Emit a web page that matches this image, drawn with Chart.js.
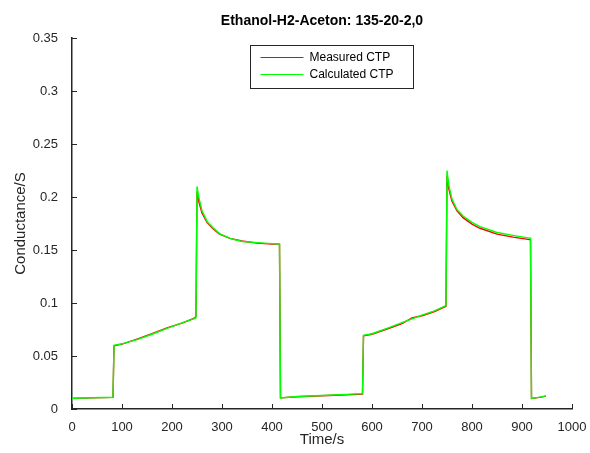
<!DOCTYPE html>
<html>
<head>
<meta charset="utf-8">
<script src="https://cdn.jsdelivr.net/npm/chart.js@4/dist/chart.umd.min.js"></script>
<style>
  html, body { margin: 0; padding: 0; background: #fff; }
</style>
</head>
<body>
<canvas id="c" width="590" height="453"></canvas>
<script>
  // time points (s) and conductance values (S)
  const times = [0, 40, 82, 84, 100, 130, 160, 190, 220, 246, 248,
    250, 254, 260, 270, 282, 295, 316, 340, 370, 400, 415,
    417, 450, 500, 550, 581, 583, 600, 630, 660, 680, 700, 725, 748,
    750, 754, 760, 770, 782, 800, 816, 850, 882, 915, 917,
    919, 935, 948];
  const measured = [0.0100, 0.0105, 0.0110, 0.0595, 0.0612, 0.0660, 0.0710, 0.0765, 0.0810, 0.0860, 0.0880,
    0.2050, 0.1950, 0.1850, 0.1760, 0.1700, 0.1650, 0.1610, 0.1585, 0.1565, 0.1555, 0.1555,
    0.0105, 0.0115, 0.0125, 0.0135, 0.0140, 0.0690, 0.0705, 0.0755, 0.0805, 0.0860, 0.0880, 0.0920, 0.0970,
    0.2200, 0.2070, 0.1960, 0.1870, 0.1805, 0.1745, 0.1705, 0.1650, 0.1622, 0.1598, 0.1600,
    0.0100, 0.0110, 0.0122];
  const calculated = [0.0102, 0.0106, 0.0111, 0.0600, 0.0615, 0.0655, 0.0705, 0.0760, 0.0812, 0.0855, 0.0860,
    0.2100, 0.1990, 0.1870, 0.1770, 0.1710, 0.1655, 0.1610, 0.1580, 0.1570, 0.1560, 0.1555,
    0.0105, 0.0118, 0.0128, 0.0138, 0.0145, 0.0695, 0.0710, 0.0760, 0.0815, 0.0850, 0.0885, 0.0925, 0.0975,
    0.2250, 0.2100, 0.1980, 0.1880, 0.1820, 0.1760, 0.1720, 0.1665, 0.1638, 0.1612, 0.1612,
    0.0100, 0.0112, 0.0124];

  const xTicks = [0, 100, 200, 300, 400, 500, 600, 700, 800, 900, 1000];
  const xTickLabels = ['0', '100', '200', '300', '400', '500', '600', '700', '800', '900', '1000'];
  const yTicks = [0, 0.05, 0.1, 0.15, 0.2, 0.25, 0.3, 0.35];
  const yTickLabels = ['0', '0.05', '0.1', '0.15', '0.2', '0.25', '0.3', '0.35'];

  const FONT = '"Liberation Sans", Arial, sans-serif';
  const INK = '#262626';

  const toPoints = (vals) => times.map((t, i) => ({ x: t, y: vals[i] }));
  const labelFor = (ticks, labels) => (v) => {
    const i = ticks.findIndex((t) => Math.abs(t - v) < 1e-9);
    return i >= 0 ? labels[i] : '';
  };

  // inward tick marks, title and boxed legend inside the plot
  const decor = {
    id: 'decor',
    afterDraw(chart) {
      const { ctx, chartArea, scales } = chart;
      ctx.save();
      ctx.strokeStyle = INK;
      ctx.lineWidth = 1;
      ctx.beginPath();
      xTicks.forEach((v) => {
        const px = Math.round(scales.x.getPixelForValue(v)) + 0.5;
        ctx.moveTo(px, chartArea.bottom);
        ctx.lineTo(px, chartArea.bottom - 5);
      });
      yTicks.forEach((v) => {
        const py = Math.round(scales.y.getPixelForValue(v)) + 0.5;
        ctx.moveTo(chartArea.left, py);
        ctx.lineTo(chartArea.left + 5, py);
      });
      ctx.stroke();

      // title
      ctx.fillStyle = '#000';
      ctx.font = 'bold 14px ' + FONT;
      ctx.textAlign = 'center';
      ctx.textBaseline = 'middle';
      ctx.fillText('Ethanol-H2-Aceton: 135-20-2,0', (chartArea.left + chartArea.right) / 2, 21);

      // legend box
      const bx = 250.5, by = 45.5, bw = 163, bh = 43;
      ctx.fillStyle = '#fff';
      ctx.fillRect(bx, by, bw, bh);
      ctx.strokeStyle = '#262626';
      ctx.strokeRect(bx, by, bw, bh);
      ctx.font = '12px ' + FONT;
      ctx.textAlign = 'left';
      chart.data.datasets.forEach((ds, i) => {
        const ly = by + 12 + i * 17;
        ctx.strokeStyle = ds.borderColor;
        ctx.beginPath();
        ctx.moveTo(bx + 10, ly);
        ctx.lineTo(bx + 53, ly);
        ctx.stroke();
        ctx.fillStyle = '#000';
        ctx.fillText(ds.label, bx + 59, ly);
      });
      ctx.restore();
    }
  };

  new Chart(document.getElementById('c'), {
    type: 'line',
    data: {
      datasets: [
        { label: 'Measured CTP', data: toPoints(measured), borderColor: '#ff0000', borderWidth: 1.4, pointRadius: 0, tension: 0, order: 2 },
        { label: 'Calculated CTP', data: toPoints(calculated), borderColor: '#00ff00', borderWidth: 1.4, pointRadius: 0, tension: 0, order: 1 }
      ]
    },
    options: {
      responsive: false,
      animation: false,
      layout: { padding: { left: 0, right: 18, top: 38, bottom: 0 } },
      plugins: { legend: { display: false }, title: { display: false }, tooltip: { enabled: false } },
      scales: {
        x: {
          type: 'linear', min: 0, max: 1000,
          afterFit: (s) => { s.height = 44; },
          afterBuildTicks: (s) => { s.ticks = xTicks.map((v) => ({ value: v })); },
          grid: { display: false },
          border: { display: true, color: INK, width: 1.5 },
          ticks: { color: INK, font: { family: FONT, size: 13 }, padding: 3, maxRotation: 0, autoSkip: false, callback: labelFor(xTicks, xTickLabels) },
          title: { display: true, text: 'Time/s', color: INK, font: { family: FONT, size: 15 }, padding: { top: 0, bottom: 4 } }
        },
        y: {
          type: 'linear', min: 0, max: 0.35,
          afterFit: (s) => { s.width = 72; },
          afterBuildTicks: (s) => { s.ticks = yTicks.map((v) => ({ value: v })); },
          grid: { display: false },
          border: { display: true, color: INK, width: 1.5 },
          ticks: { color: INK, font: { family: FONT, size: 13 }, padding: 6, autoSkip: false, callback: labelFor(yTicks, yTickLabels) },
          title: { display: true, text: 'Conductance/S', color: INK, font: { family: FONT, size: 15 }, padding: { top: 12, bottom: 0 } }
        }
      }
    },
    plugins: [decor]
  });
</script>
</body>
</html>
